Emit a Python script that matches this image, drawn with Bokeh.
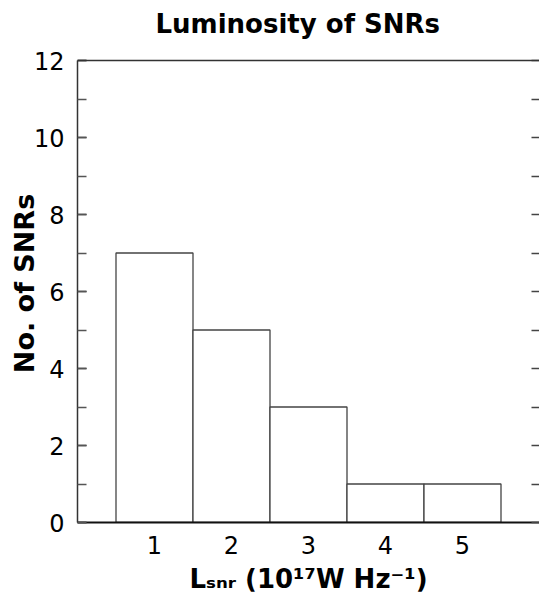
from bokeh.plotting import figure
from bokeh.models import (Range1d, LinearAxis, SingleIntervalTicker, FixedTicker,
                          Span, ColumnDataSource)
from bokeh.embed import file_html
from bokeh.resources import INLINE

# ---- data ----
lum_bins = [1, 2, 3, 4, 5]          # L_snr (10^17 W Hz^-1)
counts = [7, 5, 3, 1, 1]            # No. of SNRs
x_ticks = [1, 2, 3, 4, 5]
y_max = 12
y_minor_positions = list(range(0, y_max + 1))
title_text = "Luminosity of SNRs"
ylabel_text = "No. of SNRs"
xlabel_text = "L\u209b\u2099\u1d63 (10\u00b9\u2077W Hz\u207b\u00b9)"

FONT = "DejaVu Sans"

# layout (pixels)
W, H = 539, 601
BOX_TOP, BOX_BOTTOM = 60, 522      # where y=12 and y=0 sit
FRAME_TOP = 44                     # frame extends a bit above the box to leave room for title
y_end = y_max * (BOX_BOTTOM - FRAME_TOP) / (BOX_BOTTOM - BOX_TOP)

p = figure(width=W, height=H, output_backend="svg", toolbar_location=None,
           x_range=Range1d(0, 6), y_range=Range1d(0, y_end),
           min_border_left=77, min_border_right=0, min_border_top=FRAME_TOP,
           min_border_bottom=H - BOX_BOTTOM, x_axis_location=None, y_axis_location=None)
p.outline_line_color = None
p.background_fill_color = "white"
p.border_fill_color = "white"
p.xgrid.visible = False
p.ygrid.visible = False

p.title.text = title_text
p.title.text_font = FONT
p.title.text_font_size = "26px"
p.title.text_font_style = "bold"
p.title.text_color = "black"
p.title.align = "left"
p.title.offset = 78
p.title.standoff = 12

src = ColumnDataSource(dict(x=lum_bins, top=counts))
p.vbar(x="x", top="top", bottom=0, width=1.0, source=src,
       fill_color="white", line_color="#444444", line_width=1.3)

left = LinearAxis(ticker=SingleIntervalTicker(interval=2, num_minor_ticks=2),
                  bounds=(0, y_max))
left.major_tick_in = 9
left.major_tick_out = 0
left.minor_tick_in = 9
left.minor_tick_out = 0
left.axis_line_color = "#333333"
left.axis_line_width = 1.5
left.major_tick_line_color = "#222222"
left.minor_tick_line_color = "#555555"
left.major_tick_line_width = 1.5
left.minor_tick_line_width = 1.5
left.major_label_text_font = FONT
left.major_label_text_font_size = "24px"
left.major_label_text_color = "black"
left.major_label_standoff = 13
left.axis_label = ylabel_text
left.axis_label_text_font = FONT
left.axis_label_text_font_size = "27px"
left.axis_label_text_font_style = "bold"
left.axis_label_text_color = "black"
left.axis_label_standoff = -9
p.add_layout(left, "left")

right = LinearAxis(ticker=FixedTicker(ticks=[], minor_ticks=y_minor_positions),
                   bounds=(0, y_max))
right.major_tick_in = 0
right.major_tick_out = 0
right.minor_tick_in = 8
right.minor_tick_out = 0
right.axis_line_color = None
right.minor_tick_line_color = "#444444"
right.minor_tick_line_width = 1.5
p.add_layout(right, "right")

bottom = LinearAxis(ticker=FixedTicker(ticks=x_ticks))
bottom.major_tick_in = 0
bottom.major_tick_out = 0
bottom.minor_tick_in = 0
bottom.minor_tick_out = 0
bottom.axis_line_color = "#111111"
bottom.axis_line_width = 2
bottom.major_label_text_font = FONT
bottom.major_label_text_font_size = "24px"
bottom.major_label_text_color = "black"
bottom.major_label_standoff = 13
bottom.axis_label = xlabel_text
bottom.axis_label_text_font = FONT
bottom.axis_label_text_font_size = "26px"
bottom.axis_label_text_font_style = "bold"
bottom.axis_label_text_color = "black"
bottom.axis_label_standoff = 7
p.add_layout(bottom, "below")

p.add_layout(Span(location=y_max, dimension="width", line_color="#333333", line_width=1.5))

open("out.html", "w").write(file_html(p, INLINE))
